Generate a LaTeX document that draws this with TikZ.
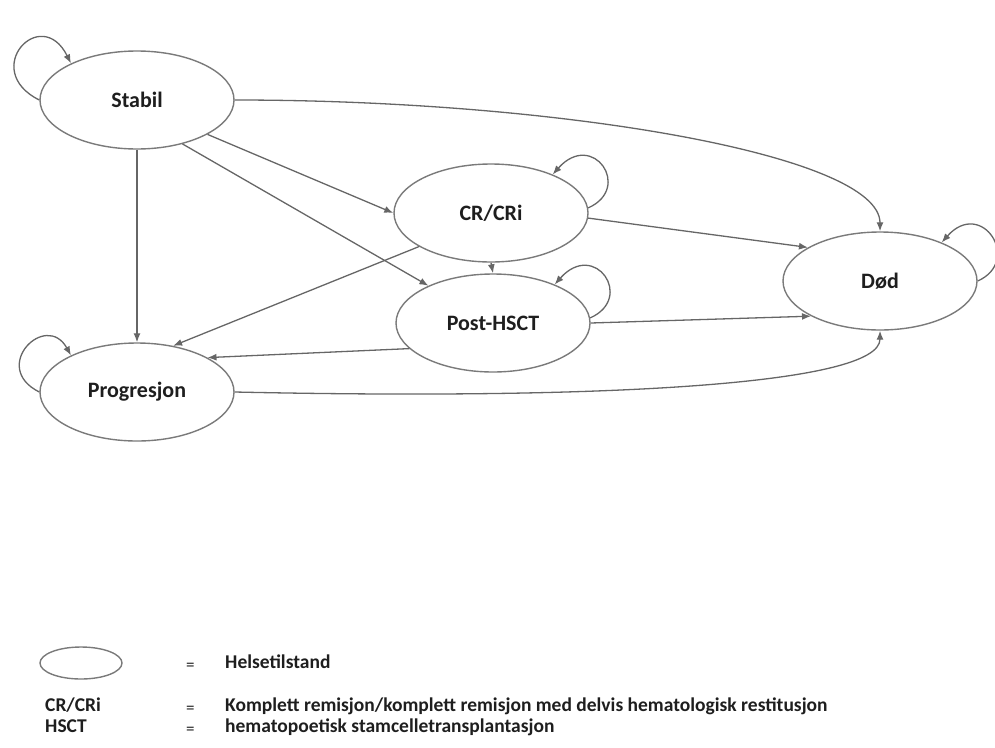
\documentclass[tikz,border=0pt]{standalone}
\usepackage{fontspec}
\setmainfont{Carlito}
\usepackage{tikz}
\usetikzlibrary{arrows.meta,positioning,shapes.geometric}
\definecolor{StateGrey}{HTML}{7A7A7A}
\definecolor{ArrowGrey}{HTML}{666666}
\definecolor{InkDark}{HTML}{1E1E1E}

\begin{document}
\begin{tikzpicture}[
		x=1pt,y=-1pt,
		state/.style={ellipse,draw=StateGrey,line width=1.4pt,minimum width=194pt,minimum height=98pt,inner sep=0pt,text=InkDark,font=\fontsize{22}{26}\selectfont\bfseries},
		arr/.style={-{Latex[length=9pt,width=7pt]},line width=1.3pt,ArrowGrey},
		lgd/.style={inner sep=0pt,anchor=west,text=InkDark,text height=14pt,text depth=4pt,font=\fontsize{19.5}{23}\selectfont\bfseries},
		eqs/.style={lgd,font=\fontsize{17}{20}\selectfont}
	]
	\useasboundingbox (0,0) rectangle (995,747);
	\node[state] (stab) at (137,100) {Stabil};
	\node[state] (cr) at (491,213) {CR/CRi};
	\node[state] (dod) at (880,281) {Død};
	\node[state] (post) at (493,323) {Post-HSCT};
	\node[state] (prog) at (137,392) {Progresjon};
	% self loops
	\draw[arr] (stab.west) .. controls +(-60,-30) and +(-30,-60) .. (stab.151);
	\draw[arr] (prog.west) .. controls +(-50,-25) and +(-25,-45) .. (prog.151);
	\draw[arr] (cr.3) .. controls +(45,-20) and +(40,-45) .. (cr.32);
	\draw[arr] (post.3) .. controls +(45,-20) and +(40,-45) .. (post.32);
	\draw[arr] (dod.east) .. controls +(45,-20) and +(40,-45) .. (dod.32);
	% transitions
	\draw[arr] (stab.east) .. controls (560,100) and (880,155) .. (dod.north);
	\draw[arr] (stab.-26) -- (cr.west);
	\draw[arr] (stab.-44) -- (post.150);
	\draw[arr] (stab.south) -- (prog.north);
	\draw[arr] (cr.-3) -- (dod.155);
	\draw[arr] (cr.south) -- (post.north);
	\draw[arr] (cr.205) -- (prog.52);
	\draw[arr] (post.east) -- (dod.207);
	\draw[arr] (post.197) -- (prog.26);
	\draw[arr] (prog.east) .. controls (600,400) and (880,385) .. (dod.south);
	% legend
	\node[state,minimum width=82pt,minimum height=32pt] (key) at (81,663) {};
	\node[eqs] (eq1) at (186,665) {=};
	\node[lgd] (txt1) at (225,663) {Helsetilstand};
	\node[lgd] (ab1) at (45,706) {CR/CRi};
	\node[eqs] (eq2) at (186,708) {=};
	\node[lgd] (txt2) at (225,706) {Komplett remisjon/komplett remisjon med delvis hematologisk restitusjon};
	\node[lgd] (ab2) at (45,727) {HSCT};
	\node[eqs] (eq3) at (186,729) {=};
	\node[lgd] (txt3) at (225,727) {hematopoetisk stamcelletransplantasjon};
\end{tikzpicture}
\end{document}
